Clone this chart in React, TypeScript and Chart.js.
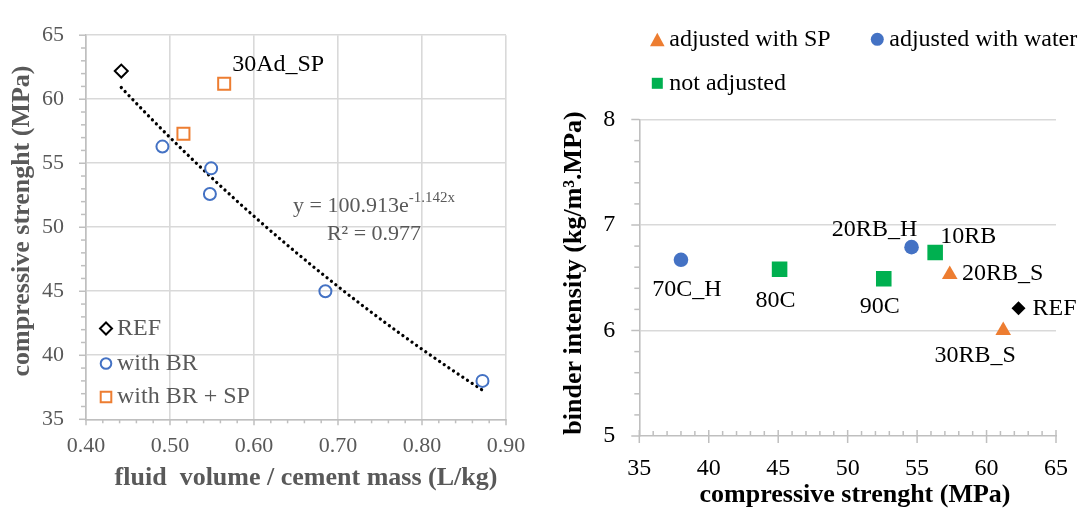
import React, { useEffect, useRef } from "react";
import { Chart, registerables } from "chart.js";

Chart.register(...registerables);

const FONT = "'Liberation Serif', 'Times New Roman', Times, serif";
const GRAY_TEXT = "#595959";
const GRID = "#d9d9d9";
const AXIS = "#bfbfbf";
const ORANGE = "#ED7D31";
const BLUE = "#4472C4";
const GREEN = "#00B050";

// ---------- Left chart data ----------
const REF_FLUID = [0.442];
const REF_STRENGTH = [62.2];
const BR_FLUID = [0.491, 0.549, 0.5475, 0.685, 0.872];
const BR_STRENGTH = [56.3, 54.6, 52.6, 45.0, 38.0];
const BRSP_FLUID = [0.516, 0.5645];
const BRSP_STRENGTH = [57.3, 61.2];
const BRSP_LABELS = ["", "30Ad_SP"];
const TREND_A = 100.913;
const TREND_B = -1.142;
const TREND_R2 = 0.977;
const LEFT_X_TICKS = [0.4, 0.5, 0.6, 0.7, 0.8, 0.9];
const LEFT_Y_TICKS = [35, 40, 45, 50, 55, 60, 65];
const LEFT_LEGEND = ["REF", "with BR", "with BR + SP"];
const LEFT_X_TITLE = "fluid  volume / cement mass (L/kg)";
const LEFT_Y_TITLE = "compressive strenght (MPa)";

// ---------- Right chart data ----------
const SP_STRENGTH = [57.35, 61.2];
const SP_INTENSITY = [6.53, 6.0];
const SP_LABELS = ["20RB_S", "30RB_S"];
const WATER_STRENGTH = [38.0, 54.6];
const WATER_INTENSITY = [6.67, 6.79];
const WATER_LABELS = ["70C_H", "20RB_H"];
const NOTADJ_STRENGTH = [45.1, 52.6, 56.3];
const NOTADJ_INTENSITY = [6.58, 6.49, 6.74];
const NOTADJ_LABELS = ["80C", "90C", "10RB"];
const REF2_STRENGTH = [62.3];
const REF2_INTENSITY = [6.21];
const REF2_LABELS = ["REF"];
const RIGHT_X_TICKS = [35, 40, 45, 50, 55, 60, 65];
const RIGHT_Y_TICKS = [5, 6, 7, 8];
const RIGHT_LEGEND = ["adjusted with SP", "adjusted with water", "not adjusted"];
const RIGHT_X_TITLE = "compressive strenght (MPa)";
const RIGHT_Y_TITLE = "binder intensity (kg/m³.MPa)";

// label placement (text centre offset from the point, px)
const RIGHT_LABEL_OFFSETS: Record<string, [number, number]> = {
  "70C_H": [6, 30],
  "80C": [-4, 31],
  "90C": [-4, 28],
  "20RB_H": [-37, -17],
  "10RB": [33, -16],
  "20RB_S": [53, -1],
  "REF": [36, 0],
  "30RB_S": [-28, 25],
};

const pts = (xs: number[], ys: number[]) => xs.map((x, i) => ({ x, y: ys[i] }));

function trendPoints() {
  const all = [...REF_FLUID, ...BR_FLUID, ...BRSP_FLUID];
  const lo = Math.min(...all);
  const hi = Math.max(...all);
  const out: { x: number; y: number }[] = [];
  const n = 60;
  for (let i = 0; i <= n; i++) {
    const x = lo + ((hi - lo) * i) / n;
    out.push({ x, y: TREND_A * Math.exp(TREND_B * x) });
  }
  return out;
}

function drawMarker(
  ctx: CanvasRenderingContext2D,
  shape: string,
  x: number,
  y: number,
  r: number,
  fill: string | null,
  stroke: string | null,
  lw = 2
) {
  ctx.beginPath();
  if (shape === "circle") ctx.arc(x, y, r, 0, Math.PI * 2);
  else if (shape === "square") ctx.rect(x - r, y - r, 2 * r, 2 * r);
  else if (shape === "diamond") {
    ctx.moveTo(x, y - r);
    ctx.lineTo(x + r, y);
    ctx.lineTo(x, y + r);
    ctx.lineTo(x - r, y);
    ctx.closePath();
  } else if (shape === "triangle") {
    ctx.moveTo(x, y - r);
    ctx.lineTo(x + r, y + r * 0.85);
    ctx.lineTo(x - r, y + r * 0.85);
    ctx.closePath();
  }
  if (fill) {
    ctx.fillStyle = fill;
    ctx.fill();
  }
  if (stroke) {
    ctx.strokeStyle = stroke;
    ctx.lineWidth = lw;
    ctx.stroke();
  }
}

function text(
  ctx: CanvasRenderingContext2D,
  t: string,
  x: number,
  y: number,
  font: string,
  color: string,
  align: CanvasTextAlign = "center",
  rotate = 0
) {
  ctx.save();
  ctx.font = font;
  ctx.fillStyle = color;
  ctx.textAlign = align;
  ctx.textBaseline = "middle";
  ctx.translate(x, y);
  if (rotate) ctx.rotate(rotate);
  ctx.fillText(t, 0, 0);
  ctx.restore();
}

type TickSpec = {
  axis: "x" | "y";
  from: number;
  to: number;
  step: number;
  major: number;
  minorOut: number;
  minorIn: number;
  majorOut: number;
  majorIn: number;
};

function drawTicks(chart: any, spec: TickSpec) {
  const ctx: CanvasRenderingContext2D = chart.ctx;
  const scale = chart.scales[spec.axis];
  const area = chart.chartArea;
  const n = Math.round((spec.to - spec.from) / spec.step);
  ctx.save();
  ctx.strokeStyle = AXIS;
  ctx.lineWidth = 1.5;
  for (let i = 0; i <= n; i++) {
    const v = spec.from + i * spec.step;
    const q = v / spec.major;
    const isMajor = Math.abs(q - Math.round(q)) < 1e-6;
    const out = isMajor ? spec.majorOut : spec.minorOut;
    const inn = isMajor ? spec.majorIn : spec.minorIn;
    const p = scale.getPixelForValue(v);
    ctx.beginPath();
    if (spec.axis === "y") {
      ctx.moveTo(area.left - out, p);
      ctx.lineTo(area.left + inn, p);
    } else {
      ctx.moveTo(p, area.bottom + out);
      ctx.lineTo(p, area.bottom - inn);
    }
    ctx.stroke();
  }
  ctx.restore();
}

function leftConfig(): any {
  const overlay = {
    id: "leftOverlay",
    afterDraw(chart: any) {
      const ctx: CanvasRenderingContext2D = chart.ctx;
      drawTicks(chart, { axis: "y", from: 35, to: 65, step: 1, major: 5, minorOut: 5, minorIn: 0, majorOut: 7, majorIn: 0 });
      drawTicks(chart, { axis: "x", from: 0.4, to: 0.9, step: 0.02, major: 0.1, minorOut: 4, minorIn: 0, majorOut: 6, majorIn: 0 });

      // point labels
      const meta = chart.getDatasetMeta(2);
      meta.data.forEach((el: any, j: number) => {
        const t = BRSP_LABELS[j];
        if (t) text(ctx, t, el.x + 8, el.y - 19, `24px ${FONT}`, "#000", "left");
      });

      // trendline equation
      const main = `y = ${TREND_A.toFixed(3)}e`;
      const sup = `${TREND_B.toFixed(3)}x`;
      ctx.save();
      ctx.font = `22px ${FONT}`;
      const mw = ctx.measureText(main).width;
      ctx.font = `15px ${FONT}`;
      const sw = ctx.measureText(sup).width;
      ctx.restore();
      const cx = 374;
      const sx = cx - (mw + sw) / 2;
      text(ctx, main, sx, 206, `22px ${FONT}`, GRAY_TEXT, "left");
      text(ctx, sup, sx + mw, 198, `15px ${FONT}`, GRAY_TEXT, "left");
      text(ctx, `R² = ${TREND_R2.toFixed(3)}`, cx, 234, `22px ${FONT}`, GRAY_TEXT, "center");

      // legend
      const shapes = [
        { shape: "diamond", color: "#000", r: 6 },
        { shape: "circle", color: BLUE, r: 5.3 },
        { shape: "square", color: ORANGE, r: 5.3 },
      ];
      const rows = [328.5, 363.5, 397];
      LEFT_LEGEND.forEach((name, i) => {
        drawMarker(ctx, shapes[i].shape, 106, rows[i], shapes[i].r, null, shapes[i].color, 2);
        text(ctx, name, 117, rows[i], `24px ${FONT}`, GRAY_TEXT, "left");
      });

      // axis titles
      text(ctx, LEFT_X_TITLE, 306, 478, `bold 26px ${FONT}`, GRAY_TEXT, "center");
      text(ctx, LEFT_Y_TITLE, 22, 221, `bold 26px ${FONT}`, GRAY_TEXT, "center", -Math.PI / 2);
    },
  };

  return {
    type: "scatter",
    data: {
      datasets: [
        {
          label: LEFT_LEGEND[0],
          data: pts(REF_FLUID, REF_STRENGTH),
          pointStyle: "rectRot",
          pointRadius: 6.5,
          pointBorderWidth: 2,
          pointBorderColor: "#000",
          pointBackgroundColor: "rgba(0,0,0,0)",
        },
        {
          label: LEFT_LEGEND[1],
          data: pts(BR_FLUID, BR_STRENGTH),
          pointStyle: "circle",
          pointRadius: 6,
          pointBorderWidth: 2,
          pointBorderColor: BLUE,
          pointBackgroundColor: "rgba(0,0,0,0)",
        },
        {
          label: LEFT_LEGEND[2],
          data: pts(BRSP_FLUID, BRSP_STRENGTH),
          pointStyle: "rect",
          pointRadius: 8.5,
          pointBorderWidth: 2,
          pointBorderColor: ORANGE,
          pointBackgroundColor: "rgba(0,0,0,0)",
        },
        {
          label: "trend",
          type: "line",
          data: trendPoints(),
          showLine: true,
          pointRadius: 0,
          borderColor: "#000",
          borderWidth: 3.3,
          borderDash: [0.01, 5.6],
          borderCapStyle: "round",
          fill: false,
          tension: 0,
        },
      ],
    },
    options: {
      responsive: false,
      animation: false,
      events: [],
      layout: { padding: { left: 0, right: 34, top: 20, bottom: 0 } },
      plugins: { legend: { display: false }, tooltip: { enabled: false } },
      scales: {
        x: {
          type: "linear",
          min: LEFT_X_TICKS[0],
          max: LEFT_X_TICKS[LEFT_X_TICKS.length - 1],
          afterBuildTicks: (s: any) => {
            s.ticks = LEFT_X_TICKS.map((v) => ({ value: v }));
          },
          afterFit: (s: any) => {
            s.height = 88.7;
          },
          grid: { color: GRID, lineWidth: 1.6, drawTicks: false },
          border: { color: AXIS, width: 1.6 },
          ticks: {
            color: GRAY_TEXT,
            font: { family: FONT, size: 22 },
            padding: 14,
            maxRotation: 0,
            callback: (v: any) => Number(v).toFixed(2),
          },
        },
        y: {
          type: "linear",
          min: LEFT_Y_TICKS[0],
          max: LEFT_Y_TICKS[LEFT_Y_TICKS.length - 1],
          afterBuildTicks: (s: any) => {
            s.ticks = LEFT_Y_TICKS.map((v) => ({ value: v }));
          },
          afterFit: (s: any) => {
            s.width = 86;
          },
          grid: { color: GRID, lineWidth: 1.6, drawTicks: false },
          border: { color: AXIS, width: 1.6 },
          ticks: {
            color: GRAY_TEXT,
            font: { family: FONT, size: 22 },
            padding: 22,
            callback: (v: any) => String(v),
          },
        },
      },
    },
    plugins: [overlay],
  };
}

function rightConfig(): any {
  const overlay = {
    id: "rightOverlay",
    afterDraw(chart: any) {
      const ctx: CanvasRenderingContext2D = chart.ctx;
      drawTicks(chart, { axis: "y", from: 5, to: 8, step: 0.2, major: 1, minorOut: 5, minorIn: 0, majorOut: 8, majorIn: 0 });
      drawTicks(chart, { axis: "x", from: 35, to: 65, step: 1, major: 5, minorOut: 0, minorIn: 5, majorOut: 7, majorIn: 6 });

      // point labels
      chart.data.datasets.forEach((ds: any, i: number) => {
        const labels: string[] = ds.pointLabels || [];
        chart.getDatasetMeta(i).data.forEach((el: any, j: number) => {
          const t = labels[j];
          if (!t) return;
          const off = RIGHT_LABEL_OFFSETS[t] || [0, 0];
          text(ctx, t, el.x + off[0], el.y + off[1], `24px ${FONT}`, "#000", "center");
        });
      });

      // legend
      const items = [
        { shape: "triangle", color: ORANGE, r: 7.3, x: 117.3, y: 40 },
        { shape: "circle", color: BLUE, r: 6.5, x: 337.3, y: 39.3 },
        { shape: "square", color: GREEN, r: 5.5, x: 117.3, y: 83.3 },
      ];
      RIGHT_LEGEND.forEach((name, i) => {
        const it = items[i];
        drawMarker(ctx, it.shape, it.x, it.y, it.r, it.color, null);
        text(ctx, name, it.x + 12, 39.3 + (i === 2 ? 44 : 0), `24px ${FONT}`, "#000", "left");
      });

      // axis titles
      text(ctx, RIGHT_X_TITLE, 315, 495, `bold 26px ${FONT}`, "#000", "center");
      text(ctx, RIGHT_Y_TITLE, 34, 273, `bold 26px ${FONT}`, "#000", "center", -Math.PI / 2);
    },
  };

  return {
    type: "scatter",
    data: {
      datasets: [
        {
          label: RIGHT_LEGEND[0],
          data: pts(SP_STRENGTH, SP_INTENSITY),
          pointLabels: SP_LABELS,
          pointStyle: "triangle",
          pointRadius: 9,
          pointBorderWidth: 0,
          pointBackgroundColor: ORANGE,
          pointBorderColor: ORANGE,
        },
        {
          label: RIGHT_LEGEND[1],
          data: pts(WATER_STRENGTH, WATER_INTENSITY),
          pointLabels: WATER_LABELS,
          pointStyle: "circle",
          pointRadius: 7.3,
          pointBorderWidth: 0,
          pointBackgroundColor: BLUE,
          pointBorderColor: BLUE,
        },
        {
          label: RIGHT_LEGEND[2],
          data: pts(NOTADJ_STRENGTH, NOTADJ_INTENSITY),
          pointLabels: NOTADJ_LABELS,
          pointStyle: "rect",
          pointRadius: 11,
          pointBorderWidth: 0,
          pointBackgroundColor: GREEN,
          pointBorderColor: GREEN,
        },
        {
          label: "REF",
          data: pts(REF2_STRENGTH, REF2_INTENSITY),
          pointLabels: REF2_LABELS,
          pointStyle: "rectRot",
          pointRadius: 7,
          pointBorderWidth: 0,
          pointBackgroundColor: "#000",
          pointBorderColor: "#000",
        },
      ],
    },
    options: {
      responsive: false,
      animation: false,
      events: [],
      layout: { padding: { left: 0, right: 19.5, top: 119.5, bottom: 0 } },
      plugins: { legend: { display: false }, tooltip: { enabled: false } },
      scales: {
        x: {
          type: "linear",
          min: RIGHT_X_TICKS[0],
          max: RIGHT_X_TICKS[RIGHT_X_TICKS.length - 1],
          afterBuildTicks: (s: any) => {
            s.ticks = RIGHT_X_TICKS.map((v) => ({ value: v }));
          },
          afterFit: (s: any) => {
            s.height = 72;
          },
          grid: { display: true, drawOnChartArea: false, drawTicks: false, color: GRID },
          border: { color: AXIS, width: 1.6 },
          ticks: {
            color: "#000",
            font: { family: FONT, size: 24 },
            padding: 18,
            maxRotation: 0,
            callback: (v: any) => String(v),
          },
        },
        y: {
          type: "linear",
          min: RIGHT_Y_TICKS[0],
          max: RIGHT_Y_TICKS[RIGHT_Y_TICKS.length - 1],
          afterBuildTicks: (s: any) => {
            s.ticks = RIGHT_Y_TICKS.map((v) => ({ value: v }));
          },
          afterFit: (s: any) => {
            s.width = 99.3;
          },
          grid: {
            color: (c: any) => (c.tick && c.tick.value === RIGHT_Y_TICKS[0] ? "rgba(0,0,0,0)" : GRID),
            lineWidth: 1.6,
            drawTicks: false,
          },
          border: { color: AXIS, width: 1.6 },
          ticks: {
            color: "#000",
            font: { family: FONT, size: 24 },
            padding: 24,
            callback: (v: any) => String(v),
          },
        },
      },
    },
    plugins: [overlay],
  };
}

export default function App() {
  const leftRef = useRef<HTMLCanvasElement>(null);
  const rightRef = useRef<HTMLCanvasElement>(null);

  useEffect(() => {
    const left = new Chart(leftRef.current as HTMLCanvasElement, leftConfig());
    const right = new Chart(rightRef.current as HTMLCanvasElement, rightConfig());
    return () => {
      left.destroy();
      right.destroy();
    };
  }, []);

  return (
    <div
      style={{
        position: "absolute",
        left: 0,
        top: 0,
        width: 1086,
        height: 508,
        background: "#fff",
        overflow: "hidden",
      }}
    >
      <canvas ref={leftRef} width={540} height={508} style={{ position: "absolute", left: 0, top: 0 }} />
      <canvas ref={rightRef} width={546} height={508} style={{ position: "absolute", left: 540, top: 0 }} />
    </div>
  );
}
